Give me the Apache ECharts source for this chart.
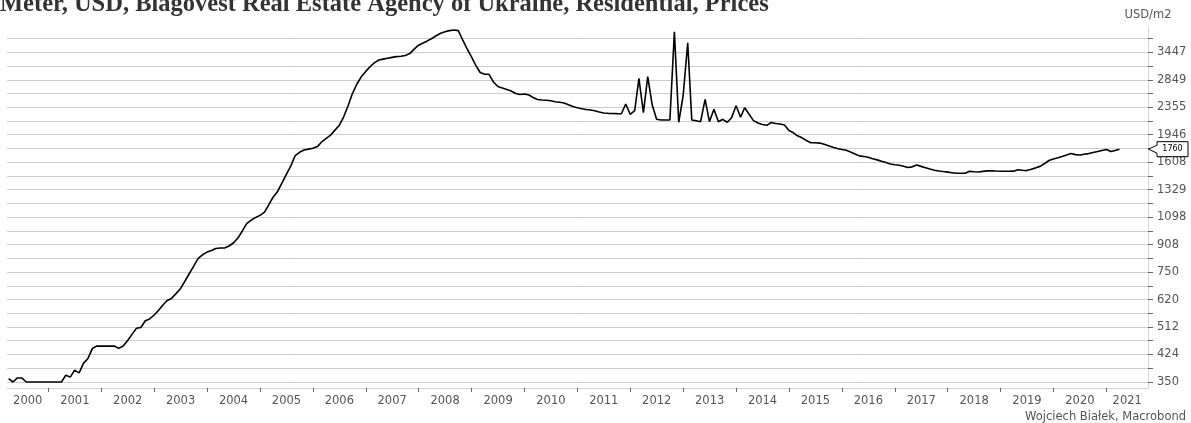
<!DOCTYPE html>
<html>
<head>
<meta charset="utf-8">
<script src="https://cdn.jsdelivr.net/npm/echarts@6/dist/echarts.min.js"></script>
<style>
html,body{margin:0;padding:0;background:#fff;}
#chart{width:1191px;height:423px;}
</style>
</head>
<body>
<div id="chart"></div>
<script>
// ---- data ----
const titleText = 'Meter, USD, Blagovest Real Estate Agency of Ukraine, Residential, Prices';
const unitText = 'USD/m2';
const sourceText = 'Wojciech Białek, Macrobond';
const startYear = 2000;
const startMonth = 4; // April 2000, monthly observations
const prices = [
  358, 350, 360, 360, 350,
  350, 350, 350, 350, 350, 350, 350, 350,
  367, 362, 380, 373, 399, 412, 442, 449,
  449, 449, 449, 449, 442, 449, 466, 487, 508, 511, 535, 542,
  557, 576, 596, 616, 625, 646, 668, 704, 743, 782, 825, 846,
  862, 871, 884, 887, 887, 899, 918, 950, 998, 1050, 1076, 1096,
  1112, 1137, 1193, 1261, 1309, 1391, 1474, 1565, 1684, 1722, 1750, 1761,
  1772, 1792, 1847, 1894, 1936, 2005, 2074, 2199, 2380, 2588, 2766, 2908,
  3019, 3123, 3204, 3267, 3288, 3308, 3327, 3345, 3352, 3373, 3416, 3524,
  3620, 3676, 3730, 3793, 3867, 3934, 3973, 4006, 4023, 4006, 3748, 3531,
  3331, 3134, 2996, 2959, 2959, 2804, 2719, 2690, 2662, 2635, 2590, 2572,
  2581, 2563, 2519, 2484, 2476, 2472, 2462, 2447, 2436, 2425, 2394, 2365,
  2347, 2331, 2319, 2310, 2297, 2278, 2262, 2257, 2255, 2253, 2251, 2408,
  2242, 2298, 2878, 2267, 2910, 2391, 2165, 2155, 2155, 2155, 3976, 2121,
  2563, 3683, 2155, 2143, 2130, 2487, 2130, 2321, 2130, 2165, 2121, 2189,
  2380, 2196, 2347, 2242, 2145, 2110, 2088, 2077, 2118, 2103, 2096, 2081,
  2003, 1972, 1931, 1904, 1869, 1841, 1841, 1836, 1820, 1803, 1785, 1768,
  1757, 1746, 1726, 1702, 1680, 1672, 1664, 1648, 1634, 1619, 1605, 1589,
  1579, 1575, 1563, 1550, 1557, 1576, 1562, 1548, 1533, 1520, 1513, 1507,
  1501, 1495, 1489, 1489, 1490, 1509, 1505, 1503, 1509, 1514, 1515, 1512,
  1510, 1510, 1510, 1511, 1526, 1521, 1517, 1531, 1546, 1562, 1593, 1627,
  1644, 1658, 1673, 1691, 1708, 1695, 1691, 1700, 1707, 1720, 1732, 1745,
  1756, 1731, 1743, 1760
];
const lastValueLabel = '1760';
const yearTicks = [2001, 2002, 2003, 2004, 2005, 2006, 2007, 2008, 2009, 2010, 2011,
  2012, 2013, 2014, 2015, 2016, 2017, 2018, 2019, 2020, 2021];
const yLabelValues = [350, 424, 512, 620, 750, 908, 1098, 1329, 1608, 1946, 2355, 2849, 3447];
const yGridValues = [350, 385, 424, 466, 512, 564, 620, 682, 750, 825, 908, 999, 1098, 1208,
  1329, 1462, 1608, 1769, 1946, 2141, 2355, 2590, 2849, 3134, 3447, 3792];
const xMinDate = [2000, 2, 21];
const xMaxDate = [2021, 9, 15];
const yMin = 335.7;
const yMax = 4108;

// ---- build ----
const seriesData = prices.map((v, i) => {
  const mIdx = startMonth - 1 + i;
  return [Date.UTC(startYear + Math.floor(mIdx / 12), mIdx % 12, 1), v];
});
const xMin = Date.UTC(xMinDate[0], xMinDate[1], xMinDate[2]);
const xMax = Date.UTC(xMaxDate[0], xMaxDate[1], xMaxDate[2]);
const tickTimes = yearTicks.map(y => Date.UTC(y, 0, 1));
const bounds = [xMin].concat(tickTimes, [xMax]);
const labelTimes = [];
for (let i = 0; i < bounds.length - 1; i++) labelTimes.push((bounds[i] + bounds[i + 1]) / 2);

const FONT = 'DejaVu Sans';
const GRID = {left: 7, right: 43, top: 27, bottom: 35};
const chart = echarts.init(document.getElementById('chart'), null, {renderer: 'canvas'});

function staticGraphics() {
  return [
    {
      type: 'text', left: 0, top: -8,
      style: {text: titleText, fill: '#333', font: 'bold 24.5px "Liberation Serif"'}
    },
    {
      type: 'text', right: 5, top: 411,
      style: {text: sourceText, fill: '#555', font: '11.5px "DejaVu Sans"'}
    }
  ];
}

const option = {
  animation: false,
  backgroundColor: '#ffffff',
  grid: {left: GRID.left, right: GRID.right, top: GRID.top, bottom: GRID.bottom, containLabel: false},
  xAxis: {
    type: 'value',
    min: xMin,
    max: xMax,
    axisLine: {show: true, lineStyle: {color: '#d4d4d4', width: 1}},
    axisTick: {show: true, customValues: tickTimes, length: 4, lineStyle: {color: '#666', width: 1}},
    axisLabel: {
      customValues: labelTimes,
      formatter: v => String(new Date(v).getUTCFullYear()),
      color: '#555', fontSize: 11.5, fontFamily: FONT, margin: 7,
      hideOverlap: false
    },
    splitLine: {show: false}
  },
  yAxis: {
    type: 'log',
    position: 'right',
    min: yMin,
    max: yMax,
    name: unitText,
    nameLocation: 'end',
    nameGap: 6,
    nameTextStyle: {color: '#555', fontSize: 11.5, fontFamily: FONT},
    axisLine: {show: true, lineStyle: {color: '#d4d4d4', width: 1}},
    axisTick: {show: true, customValues: yGridValues, length: 5, lineStyle: {color: '#666', width: 1}},
    axisLabel: {
      customValues: yLabelValues,
      formatter: v => String(Math.round(v)),
      color: '#555', fontSize: 11.5, fontFamily: FONT, margin: 9
    },
    splitLine: {show: true, lineStyle: {color: '#cccccc', width: 1}}
  },
  series: [{
    type: 'line',
    data: seriesData,
    showSymbol: false,
    symbol: 'none',
    lineStyle: {color: '#000000', width: 1.6},
    silent: true
  }],
  graphic: staticGraphics()
};
chart.setOption(option);

// last value marker on the axis
const lastVal = prices[prices.length - 1];
const yPix = chart.convertToPixel({yAxisIndex: 0}, lastVal);
const xAxisPix = chart.getWidth() - GRID.right;
const bx = xAxisPix + 9, bw = 31, bh = 15;
chart.setOption({
  graphic: staticGraphics().concat([
    {
      type: 'polygon',
      shape: {points: [
        [bx, yPix - bh / 2], [bx + bw, yPix - bh / 2], [bx + bw, yPix + bh / 2], [bx, yPix + bh / 2],
        [bx, yPix + 4], [xAxisPix + 0.5, yPix], [bx, yPix - 4]
      ]},
      style: {fill: '#fff', stroke: '#000', lineWidth: 1},
      z: 100
    },
    {
      type: 'text', x: bx + bw / 2, y: yPix,
      style: {text: lastValueLabel, fill: '#000', font: '8px "DejaVu Sans"', align: 'center', verticalAlign: 'middle'},
      z: 101
    }
  ])
}, {replaceMerge: ['graphic']});
</script>
</body>
</html>
